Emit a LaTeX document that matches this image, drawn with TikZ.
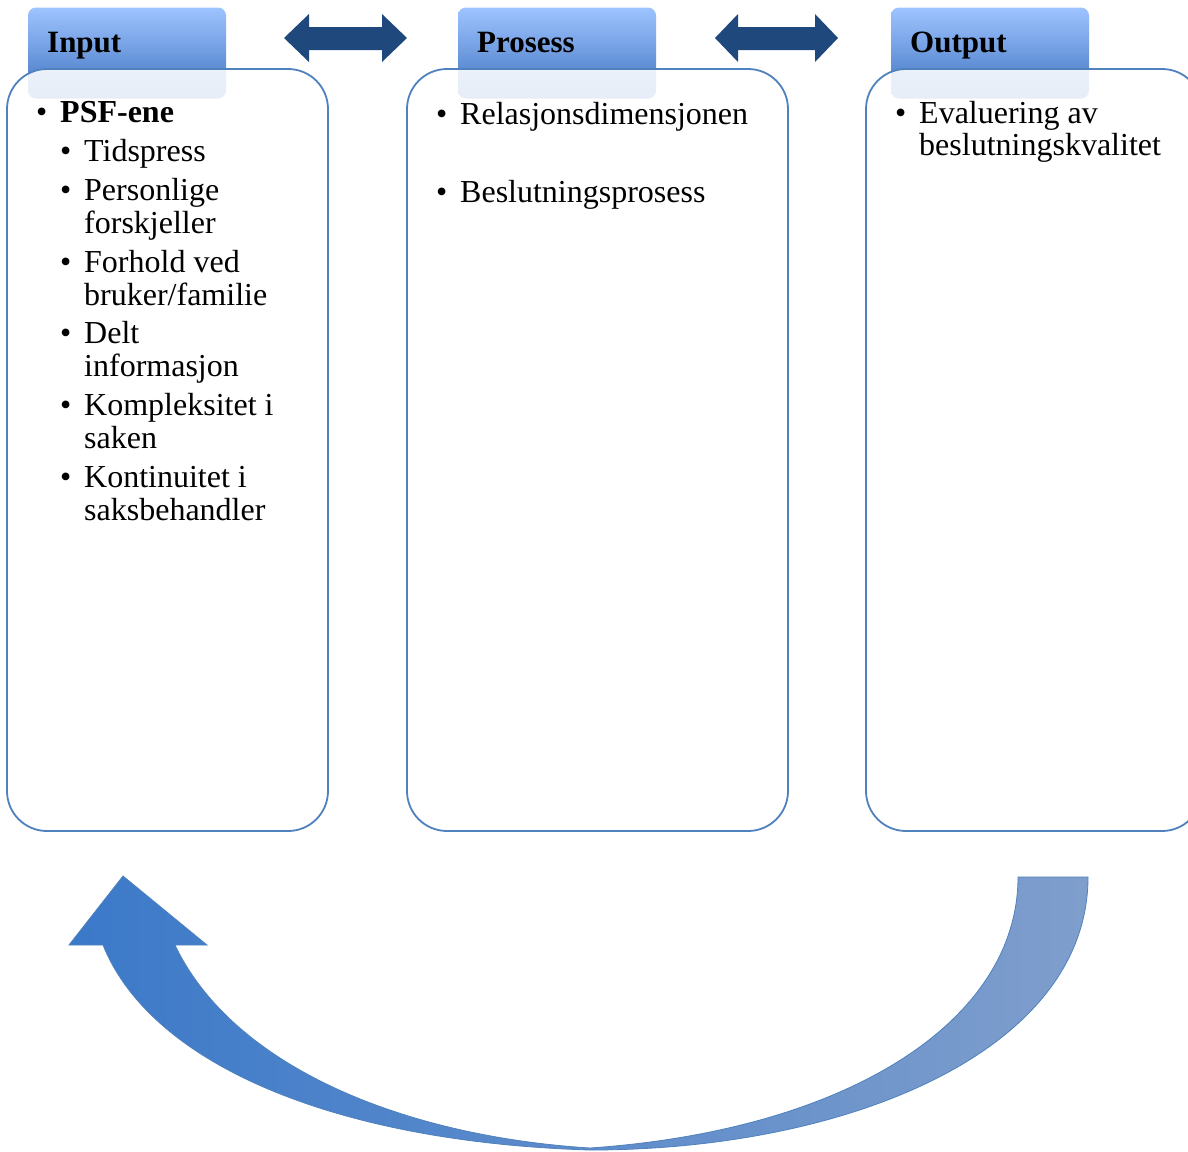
\documentclass[tikz,border=0pt]{standalone}
\usepackage{fontspec}
\setmainfont{Liberation Serif}
\definecolor{boxblue}{HTML}{4F81BD}
\definecolor{tabtop}{HTML}{9EC4FF}
\definecolor{tabbot}{HTML}{3F72C0}
\definecolor{darkarrow}{HTML}{1F497D}
\definecolor{curveL}{HTML}{3B79C9}
\definecolor{curveR}{HTML}{7F9ECC}
\begin{document}
\begin{tikzpicture}[x=1pt,y=-1pt,
  tab/.style={draw=none, rounded corners=8pt, top color=tabtop, bottom color=tabbot,
    minimum width=198pt, minimum height=91pt, inner sep=0pt},
  tabtext/.style={anchor=base west, inner sep=0pt, font=\fontsize{31}{33}\selectfont\bfseries},
  panel/.style={draw=boxblue, line width=1.8pt, rounded corners=40pt, fill=white,
    fill opacity=0.88, text opacity=1, minimum height=762pt, inner sep=0pt},
  txt/.style={anchor=base west, inner sep=0pt, font=\fontsize{32}{33}\selectfont},
  dblarrow/.style={fill=darkarrow, draw=none},
  bigarrow/.style={draw=boxblue, line width=0.8pt, left color=curveL, right color=curveR}
]
\useasboundingbox (0,0) rectangle (1188,1151);
\fill[white] (0,0) rectangle (1188,1151);
\begin{scope}
\clip (0,0) rectangle (1188,1151);
% header tabs
\node[tab] (tabin)  at (127,53) {};
\node[tab] (tabpro) at (557,53) {};
\node[tab] (tabout) at (990,53) {};
% panels
\node[panel, minimum width=321pt] (boxin)  at (167.5,450) {};
\node[panel, minimum width=381pt] (boxpro) at (597.5,450) {};
\node[panel, minimum width=336pt] (boxout) at (1034,450) {};
% tab texts
\node[tabtext] (tin)  at (47,52)  {Input};
\node[tabtext] (tpro) at (477,52) {Prosess};
\node[tabtext] (tout) at (910,52) {Output};
% double arrows
\fill[dblarrow] (284,38) -- (309,14) -- (309,27) -- (382,27) -- (382,14) -- (407,38)
  -- (382,62) -- (382,50) -- (309,50) -- (309,62) -- cycle;
\fill[dblarrow] (715,38) -- (738,14) -- (738,27) -- (815,27) -- (815,14) -- (838,38)
  -- (815,62) -- (815,50) -- (738,50) -- (738,62) -- cycle;
% Input list
\node[txt] (b0) at (36,122) {•};
\node[txt] (l0) at (60,122) {\textbf{PSF-ene}};
\node[txt] (b1) at (60,161) {•};
\node[txt] (l1) at (84,161) {Tidspress};
\node[txt] (b2) at (60,200) {•};
\node[txt] (l2) at (84,200) {Personlige};
\node[txt] (l2b) at (84,233) {forskjeller};
\node[txt] (b3) at (60,272) {•};
\node[txt] (l3) at (84,272) {Forhold ved};
\node[txt] (l3b) at (84,305) {bruker/familie};
\node[txt] (b4) at (60,343) {•};
\node[txt] (l4) at (84,343) {Delt};
\node[txt] (l4b) at (84,376) {informasjon};
\node[txt] (b5) at (60,415) {•};
\node[txt] (l5) at (84,415) {Kompleksitet i};
\node[txt] (l5b) at (84,448) {saken};
\node[txt] (b6) at (60,487) {•};
\node[txt] (l6) at (84,487) {Kontinuitet i};
\node[txt] (l6b) at (84,520) {saksbehandler};
% Prosess list
\node[txt] (p1b) at (436,124) {•};
\node[txt] (p1) at (460,124) {Relasjonsdimensjonen};
\node[txt] (p2b) at (436,202) {•};
\node[txt] (p2) at (460,202) {Beslutningsprosess};
% Output list
\node[txt] (o1b) at (895,123) {•};
\node[txt] (o1) at (919,123) {Evaluering av};
\node[txt] (o1c) at (919,155) {beslutningskvalitet};
% curved feedback arrow
\path[bigarrow] (123,876) -- (207,945) -- (175,945)
  .. controls (232,1065) and (400,1136) .. (590,1148)
  .. controls (850,1130) and (1018,1020) .. (1018,877)
  -- (1088,877)
  .. controls (1088,1050) and (850,1150) .. (590,1150)
  .. controls (330,1142) and (150,1062) .. (103,945)
  -- (69,945) -- cycle;
\end{scope}
\end{tikzpicture}
\end{document}
